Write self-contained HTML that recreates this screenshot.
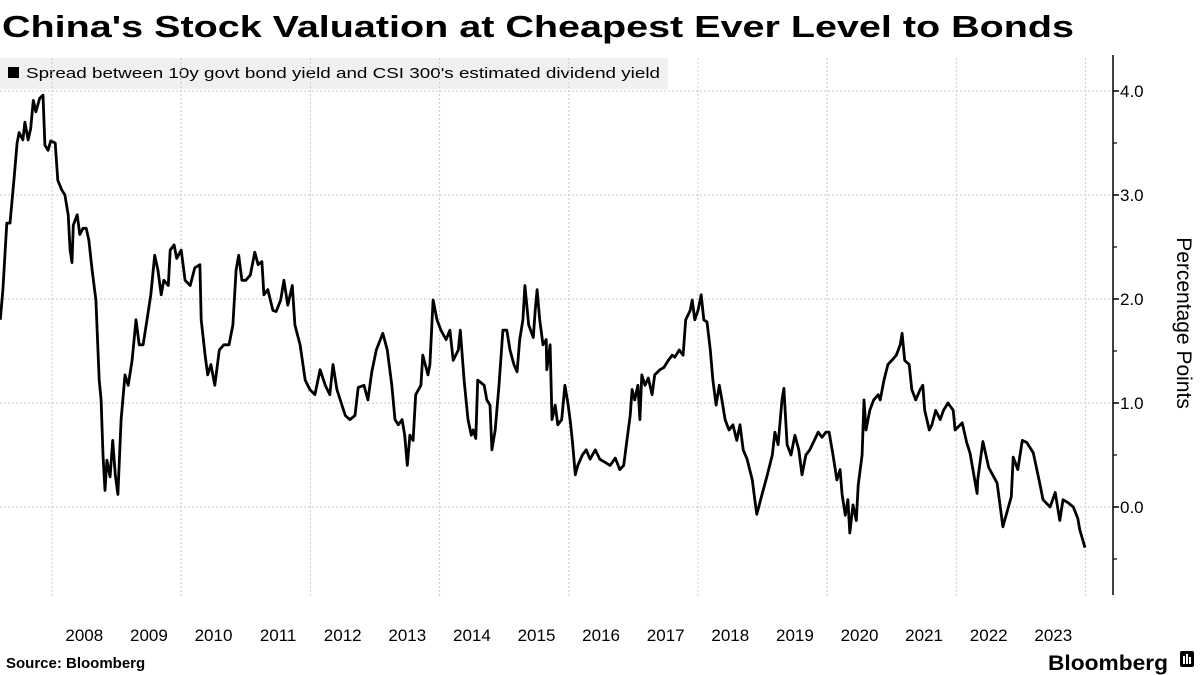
<!DOCTYPE html>
<html><head><meta charset="utf-8"><style>
html,body{margin:0;padding:0;background:#fff;}
svg{display:block;font-family:"Liberation Sans","DejaVu Sans",sans-serif;}
</style></head><body>
<svg id="chart" width="1200" height="675" viewBox="0 0 1200 675" xmlns="http://www.w3.org/2000/svg">
<text x="2" y="37" font-size="31" font-weight="bold" textLength="1072" lengthAdjust="spacingAndGlyphs" fill="#000">China's Stock Valuation at Cheapest Ever Level to Bonds</text>
<g>
<rect x="0" y="58" width="668" height="31" fill="#f0f0f0"/>
<rect x="8" y="67" width="11" height="11" fill="#000"/>
<text x="26" y="78" font-size="15" textLength="634" lengthAdjust="spacingAndGlyphs" fill="#000">Spread between 10y govt bond yield and CSI 300's estimated dividend yield</text>
</g>
<g id="grid"></g>
<g id="axis"></g>
<g id="xaxis"></g>
<path id="line" fill="none" stroke="#000" stroke-width="2.8" stroke-linejoin="round"/>
<text transform="translate(1177,323) rotate(90)" text-anchor="middle" font-size="21" fill="#000">Percentage Points</text>
<text x="6" y="668" font-size="15" font-weight="bold" fill="#000">Source: Bloomberg</text>
<text x="1048" y="670" font-size="21" font-weight="bold" fill="#000" textLength="120" lengthAdjust="spacingAndGlyphs">Bloomberg</text>
<g>
<rect x="1180" y="651" width="14" height="16" rx="2" fill="#000"/>
<rect x="1183" y="656" width="2" height="8" fill="#fff"/>
<rect x="1186" y="654" width="2" height="10" fill="#fff"/>
<rect x="1189" y="657" width="2" height="7" fill="#fff"/>
</g>
</svg>
<script>
const dates=[2007.20,2007.24,2007.30,2007.35,2007.41,2007.46,2007.49,2007.55,2007.58,2007.63,2007.67,2007.71,2007.75,2007.81,2007.86,2007.89,2007.94,2007.98,2008.05,2008.09,2008.15,2008.20,2008.25,2008.28,2008.31,2008.33,2008.39,2008.43,2008.48,2008.53,2008.57,2008.62,2008.68,2008.73,2008.76,2008.79,2008.82,2008.85,2008.90,2008.94,2008.98,2009.02,2009.07,2009.13,2009.18,2009.24,2009.30,2009.35,2009.41,2009.47,2009.53,2009.59,2009.64,2009.69,2009.73,2009.80,2009.83,2009.89,2009.93,2010.00,2010.06,2010.14,2010.21,2010.29,2010.31,2010.37,2010.41,2010.46,2010.52,2010.59,2010.66,2010.74,2010.80,2010.85,2010.89,2010.94,2011.00,2011.07,2011.14,2011.19,2011.25,2011.28,2011.34,2011.42,2011.47,2011.54,2011.59,2011.65,2011.72,2011.76,2011.84,2011.92,2011.99,2012.07,2012.15,2012.23,2012.30,2012.35,2012.41,2012.54,2012.61,2012.69,2012.74,2012.83,2012.89,2012.95,2013.02,2013.12,2013.19,2013.26,2013.31,2013.36,2013.42,2013.46,2013.50,2013.54,2013.59,2013.63,2013.71,2013.74,2013.82,2013.85,2013.90,2013.96,2014.02,2014.10,2014.16,2014.21,2014.29,2014.32,2014.38,2014.44,2014.49,2014.52,2014.56,2014.59,2014.69,2014.73,2014.78,2014.81,2014.86,2014.92,2014.98,2015.04,2015.09,2015.15,2015.20,2015.24,2015.29,2015.32,2015.38,2015.45,2015.48,2015.51,2015.55,2015.60,2015.65,2015.66,2015.71,2015.74,2015.79,2015.83,2015.89,2015.94,2015.99,2016.03,2016.06,2016.10,2016.14,2016.21,2016.27,2016.33,2016.41,2016.48,2016.56,2016.64,2016.72,2016.79,2016.85,2016.90,2016.95,2016.98,2017.02,2017.07,2017.10,2017.13,2017.18,2017.23,2017.29,2017.33,2017.41,2017.47,2017.54,2017.60,2017.64,2017.71,2017.77,2017.81,2017.88,2017.91,2017.95,2018.00,2018.05,2018.09,2018.14,2018.19,2018.23,2018.28,2018.33,2018.37,2018.42,2018.48,2018.54,2018.60,2018.65,2018.70,2018.76,2018.84,2018.88,2018.91,2018.99,2019.07,2019.15,2019.19,2019.24,2019.30,2019.33,2019.38,2019.44,2019.50,2019.56,2019.61,2019.67,2019.73,2019.80,2019.86,2019.92,2019.98,2020.03,2020.09,2020.15,2020.20,2020.23,2020.28,2020.32,2020.35,2020.40,2020.45,2020.48,2020.54,2020.57,2020.60,2020.66,2020.72,2020.79,2020.82,2020.88,2020.94,2021.00,2021.07,2021.13,2021.16,2021.20,2021.27,2021.31,2021.37,2021.44,2021.48,2021.51,2021.58,2021.62,2021.68,2021.75,2021.80,2021.87,2021.95,2021.98,2022.09,2022.16,2022.21,2022.32,2022.33,2022.41,2022.50,2022.63,2022.72,2022.85,2022.88,2022.95,2023.02,2023.09,2023.19,2023.29,2023.34,2023.45,2023.53,2023.60,2023.65,2023.73,2023.81,2023.88,2023.91,2023.99,2024.07];
const spread=[1.80,2.09,2.73,2.73,3.14,3.50,3.60,3.53,3.70,3.53,3.64,3.91,3.80,3.93,3.96,3.48,3.43,3.52,3.50,3.14,3.05,3.00,2.81,2.47,2.35,2.71,2.81,2.62,2.68,2.68,2.57,2.28,1.99,1.22,1.03,0.50,0.16,0.45,0.29,0.64,0.31,0.12,0.84,1.27,1.17,1.41,1.80,1.56,1.56,1.80,2.04,2.42,2.28,2.04,2.18,2.13,2.47,2.52,2.39,2.47,2.18,2.13,2.30,2.33,1.80,1.46,1.27,1.37,1.17,1.51,1.56,1.56,1.75,2.28,2.42,2.18,2.18,2.23,2.45,2.33,2.36,2.04,2.09,1.89,1.88,1.99,2.18,1.94,2.13,1.75,1.56,1.22,1.13,1.08,1.32,1.17,1.08,1.37,1.13,0.88,0.84,0.88,1.15,1.17,1.03,1.30,1.51,1.67,1.51,1.17,0.84,0.79,0.84,0.69,0.40,0.69,0.64,1.08,1.17,1.46,1.27,1.37,1.99,1.80,1.70,1.61,1.70,1.41,1.51,1.70,1.22,0.84,0.69,0.74,0.66,1.22,1.17,1.03,0.98,0.55,0.74,1.17,1.70,1.70,1.51,1.37,1.30,1.61,1.80,2.13,1.75,1.63,1.89,2.09,1.80,1.56,1.61,1.32,1.56,0.84,0.98,0.79,0.84,1.17,0.98,0.79,0.60,0.31,0.40,0.50,0.55,0.46,0.55,0.46,0.43,0.40,0.47,0.36,0.40,0.64,0.88,1.13,1.03,1.17,0.84,1.27,1.17,1.24,1.08,1.27,1.32,1.34,1.41,1.46,1.44,1.51,1.46,1.80,1.89,1.99,1.80,1.89,2.04,1.80,1.78,1.51,1.22,0.98,1.17,1.03,0.84,0.74,0.79,0.64,0.79,0.55,0.46,0.26,0.07,-0.07,0.12,0.30,0.50,0.72,0.60,1.03,1.14,0.60,0.50,0.69,0.55,0.31,0.50,0.55,0.64,0.72,0.67,0.72,0.72,0.50,0.26,0.36,0.12,-0.08,0.07,-0.25,0.02,-0.13,0.21,0.50,1.03,0.74,0.93,1.03,1.08,1.03,1.22,1.37,1.41,1.46,1.56,1.67,1.41,1.37,1.13,1.03,1.13,1.17,0.93,0.74,0.79,0.93,0.84,0.93,1.00,0.93,0.74,0.81,0.62,0.52,0.13,0.26,0.63,0.38,0.23,-0.19,0.10,0.48,0.36,0.64,0.62,0.52,0.23,0.07,0.00,0.14,-0.13,0.07,0.04,0.00,-0.11,-0.22,-0.39];
const yTicks=[0,1,2,3,4];
const yTickLabels=["0.0","1.0","2.0","3.0","4.0"];
const yMinorTicks=[-0.5,0.5,1.5,2.5,3.5];
const xYears=[2008,2009,2010,2011,2012,2013,2014,2015,2016,2017,2018,2019,2020,2021,2022,2023];
const xGridYears=[2008,2010,2012,2014,2016,2018,2020,2022,2024];

const NS="http://www.w3.org/2000/svg";
const AX=1113, YB=595;
function xs(t){return 52+(t-2008)*64.6;}
function ys(v){return 507-v*104;}
function mk(tag,attrs,parent){const e=document.createElementNS(NS,tag);for(const k in attrs)e.setAttribute(k,attrs[k]);parent.appendChild(e);return e;}

const grid=document.getElementById('grid');
yTicks.forEach(v=>{
  const l=mk('line',{x1:0,x2:AX,y1:ys(v),y2:ys(v),stroke:'#c8c8c8','stroke-width':1,'stroke-dasharray':'2,2'},grid);
  
  
});
xGridYears.forEach(y=>{
  const l=mk('line',{x1:xs(y),x2:xs(y),y1:58,y2:598,stroke:'#c8c8c8','stroke-width':1,'stroke-dasharray':'2,2'},grid);
  
  
});

const axis=document.getElementById('axis');
const al=mk('line',{x1:AX,x2:AX,y1:55,y2:YB,stroke:'#000','stroke-width':1.5},axis);


yTicks.forEach((v,i)=>{
  const t=mk('line',{x1:AX,x2:AX+6,y1:ys(v),y2:ys(v),stroke:'#000','stroke-width':1.5},axis);
  
  
  const tx=mk('text',{x:AX+7,y:ys(v)+6,'font-size':17,fill:'#000'},axis);
  tx.textContent=yTickLabels[i];
  
  
});
yMinorTicks.forEach(v=>{
  const t=mk('line',{x1:AX,x2:AX+4,y1:ys(v),y2:ys(v),stroke:'#000','stroke-width':1.2},axis);
  
  
});

const xaxis=document.getElementById('xaxis');
xYears.forEach(y=>{
  const tx=mk('text',{x:xs(y+0.5),y:641,'font-size':17,'text-anchor':'middle',fill:'#000'},xaxis);
  tx.textContent=String(y);
  
  
});

let d='';
dates.forEach((t,i)=>{d+=(i?'L':'M')+xs(t).toFixed(1)+','+ys(spread[i]).toFixed(1);});
document.getElementById('line').setAttribute('d',d);
</script>
</body></html>
